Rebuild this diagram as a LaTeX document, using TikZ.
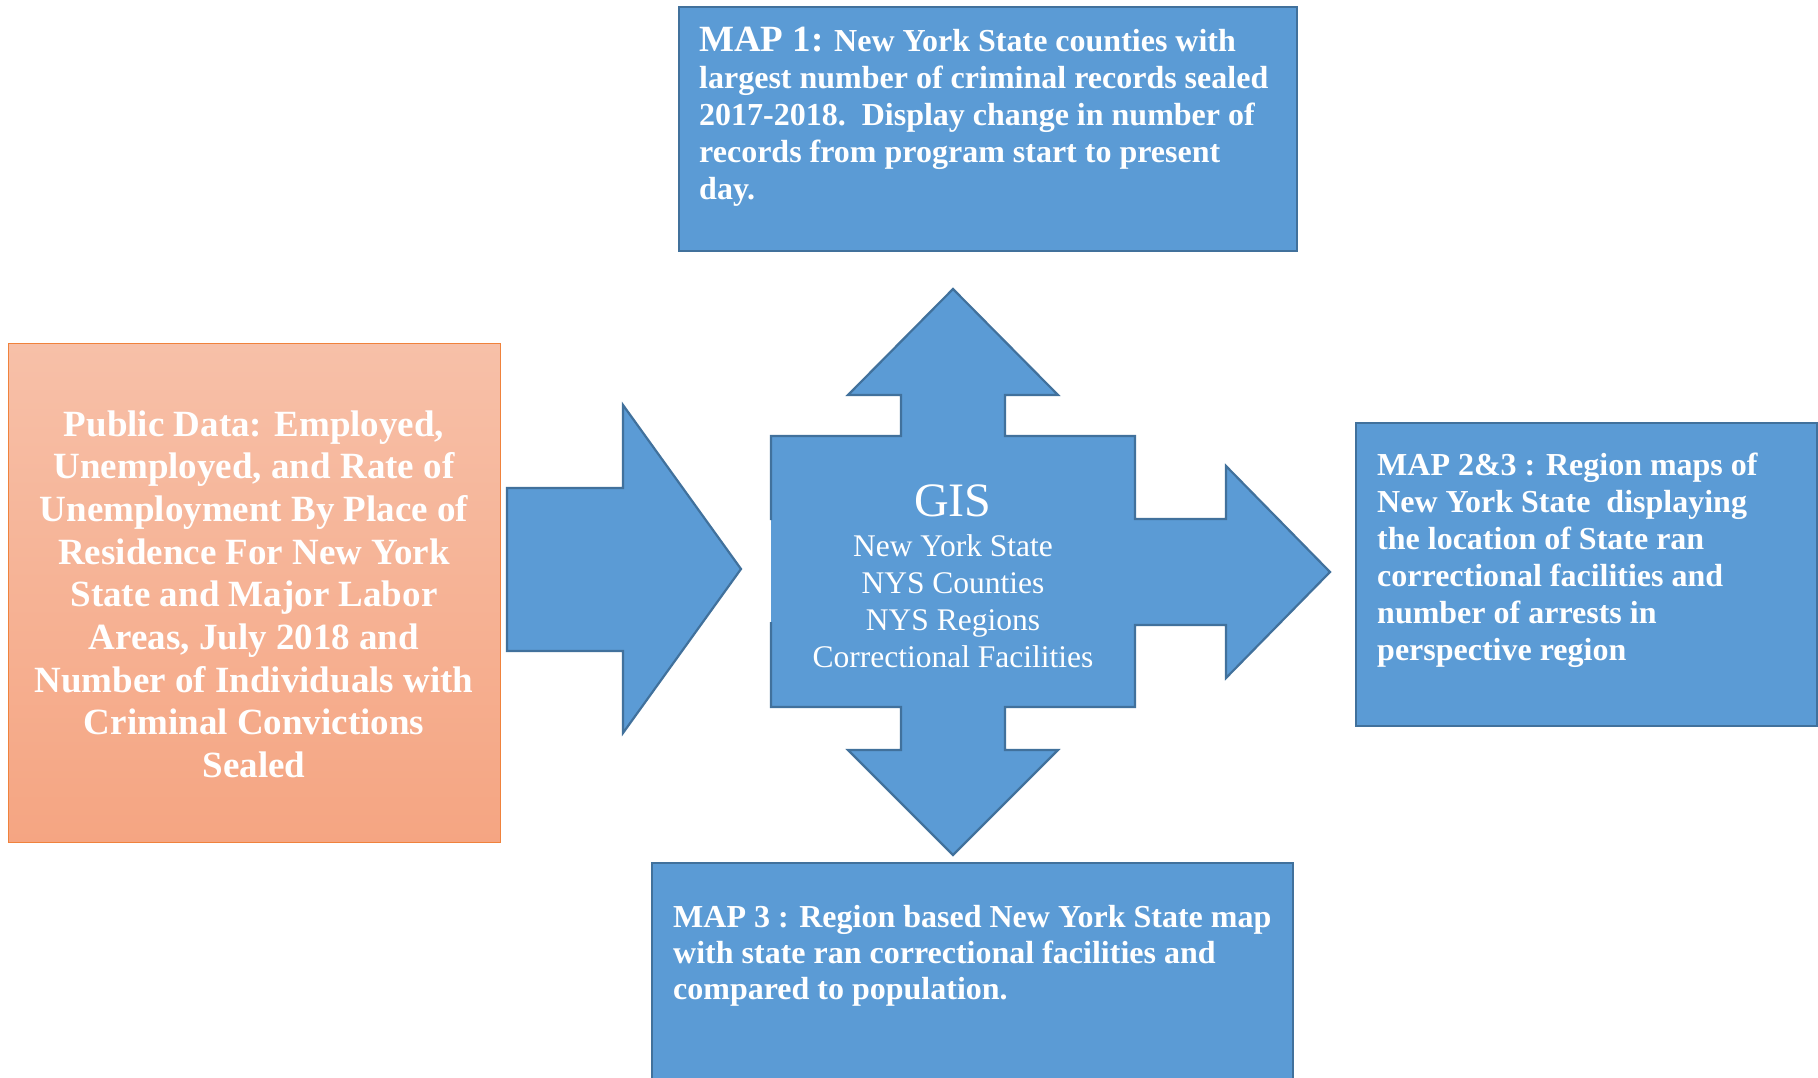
\documentclass[tikz,border=0pt]{standalone}
\usepackage{fontspec}
\setmainfont{Liberation Serif}
\begin{document}
\begin{tikzpicture}[x=1pt,y=-1pt]
\definecolor{bluefill}{RGB}{91,155,213}
\definecolor{blueline}{RGB}{65,113,156}
\definecolor{orgline}{RGB}{240,130,60}
\definecolor{orgtop}{RGB}{247,192,168}
\definecolor{orgbot}{RGB}{245,165,130}
\tikzset{
  bluebox/.style={fill=bluefill, draw=blueline, line width=2.2pt, anchor=north west, inner sep=0pt},
  orgbox/.style={top color=orgtop, bottom color=orgbot, draw=orgline, line width=1.4pt, anchor=north west, inner sep=0pt},
  arrowfill/.style={fill=bluefill},
  arrowline/.style={draw=blueline, line width=2.2pt, line join=miter},
  btext/.style={text=white, font=\bfseries\fontsize{32}{37}\selectfont, inner sep=0pt, anchor=base west},
  otext/.style={text=white, font=\bfseries\fontsize{37}{43}\selectfont, inner sep=0pt, anchor=base},
  gtext/.style={text=white, font=\fontsize{31.5}{37}\selectfont, inner sep=0pt, anchor=base},
}
\useasboundingbox (0,0) rectangle (1818,1078);
\clip (0,0) rectangle (1818,1078);
\fill[white] (0,0) rectangle (1818,1078);

% boxes
\node[orgbox, minimum width=492, minimum height=499] (data) at (8,343) {};
\node[bluebox, minimum width=618, minimum height=244] (map1) at (678,6) {};
\node[bluebox, minimum width=461, minimum height=303] (map23) at (1355,422) {};
\node[bluebox, minimum width=641, minimum height=240] (map3) at (651,862) {};

% big input arrow
\path[arrowfill, arrowline] (507,488) -- (623,488) -- (623,405) -- (741,569)
  -- (623,733) -- (623,651) -- (507,651) -- cycle;

% GIS cross arrow
\path[arrowfill] (771,436) -- (901,436) -- (901,395) -- (848,395) -- (953,289)
  -- (1058,395) -- (1005,395) -- (1005,436) -- (1135,436) -- (1135,519)
  -- (1226,519) -- (1226,466) -- (1330,572) -- (1226,678) -- (1226,625)
  -- (1135,625) -- (1135,707) -- (1005,707) -- (1005,750) -- (1058,750)
  -- (953,855) -- (848,750) -- (901,750) -- (901,707) -- (771,707) -- cycle;
\path[arrowline] (771,622) -- (771,707) -- (901,707) -- (901,750) -- (848,750)
  -- (953,855) -- (1058,750) -- (1005,750) -- (1005,707) -- (1135,707)
  -- (1135,625) -- (1226,625) -- (1226,678) -- (1330,572) -- (1226,466)
  -- (1226,519) -- (1135,519) -- (1135,436) -- (1005,436) -- (1005,395)
  -- (1058,395) -- (953,289) -- (848,395) -- (901,395) -- (901,436)
  -- (771,436) -- (771,520);

% GIS text
\node[text=white, font=\fontsize{48}{48}\selectfont, inner sep=0pt, anchor=base] (gis) at (953,516) {GIS};
\foreach \t [count=\i] in {New York State, NYS Counties, NYS Regions, Correctional Facilities}
  \node[gtext] (gis-\i) at (953,{519+37*\i}) {\t};

% public data text
\foreach \t [count=\i] in {{Public Data: Employed,}, {Unemployed, and Rate of},
  {Unemployment By Place of}, {Residence For New York}, {State and Major Labor},
  {Areas, July 2018 and}, {Number of Individuals with}, {Criminal Convictions}, {Sealed}}
  \node[otext] (data-\i) at (254,{436+42.7*(\i-1)}) {\t};

% MAP 1 text
\foreach \t [count=\i] in {{{\fontsize{37}{37}\selectfont MAP 1:} New York State counties with},
  {largest number of criminal records sealed},
  {2017-2018.\ \ Display change in number of},
  {records from program start to present},
  {day.}}
  \node[btext] (map1-\i) at (699,{52+37*(\i-1)}) {\t};

% MAP 2&3 text
\foreach \t [count=\i] in {{MAP 2\&3 : Region maps of},
  {New York State\ \ displaying},
  {the location of State ran},
  {correctional facilities and},
  {number of arrests in},
  {perspective region}}
  \node[btext] (map23-\i) at (1377,{475+37*(\i-1)}) {\t};

% MAP 3 text
\foreach \t [count=\i] in {{MAP 3 : Region based New York State map},
  {with state ran correctional facilities and},
  {compared to population.}}
  \node[btext] (map3-\i) at (673,{927+36*(\i-1)}) {\t};
\end{tikzpicture}
\end{document}
